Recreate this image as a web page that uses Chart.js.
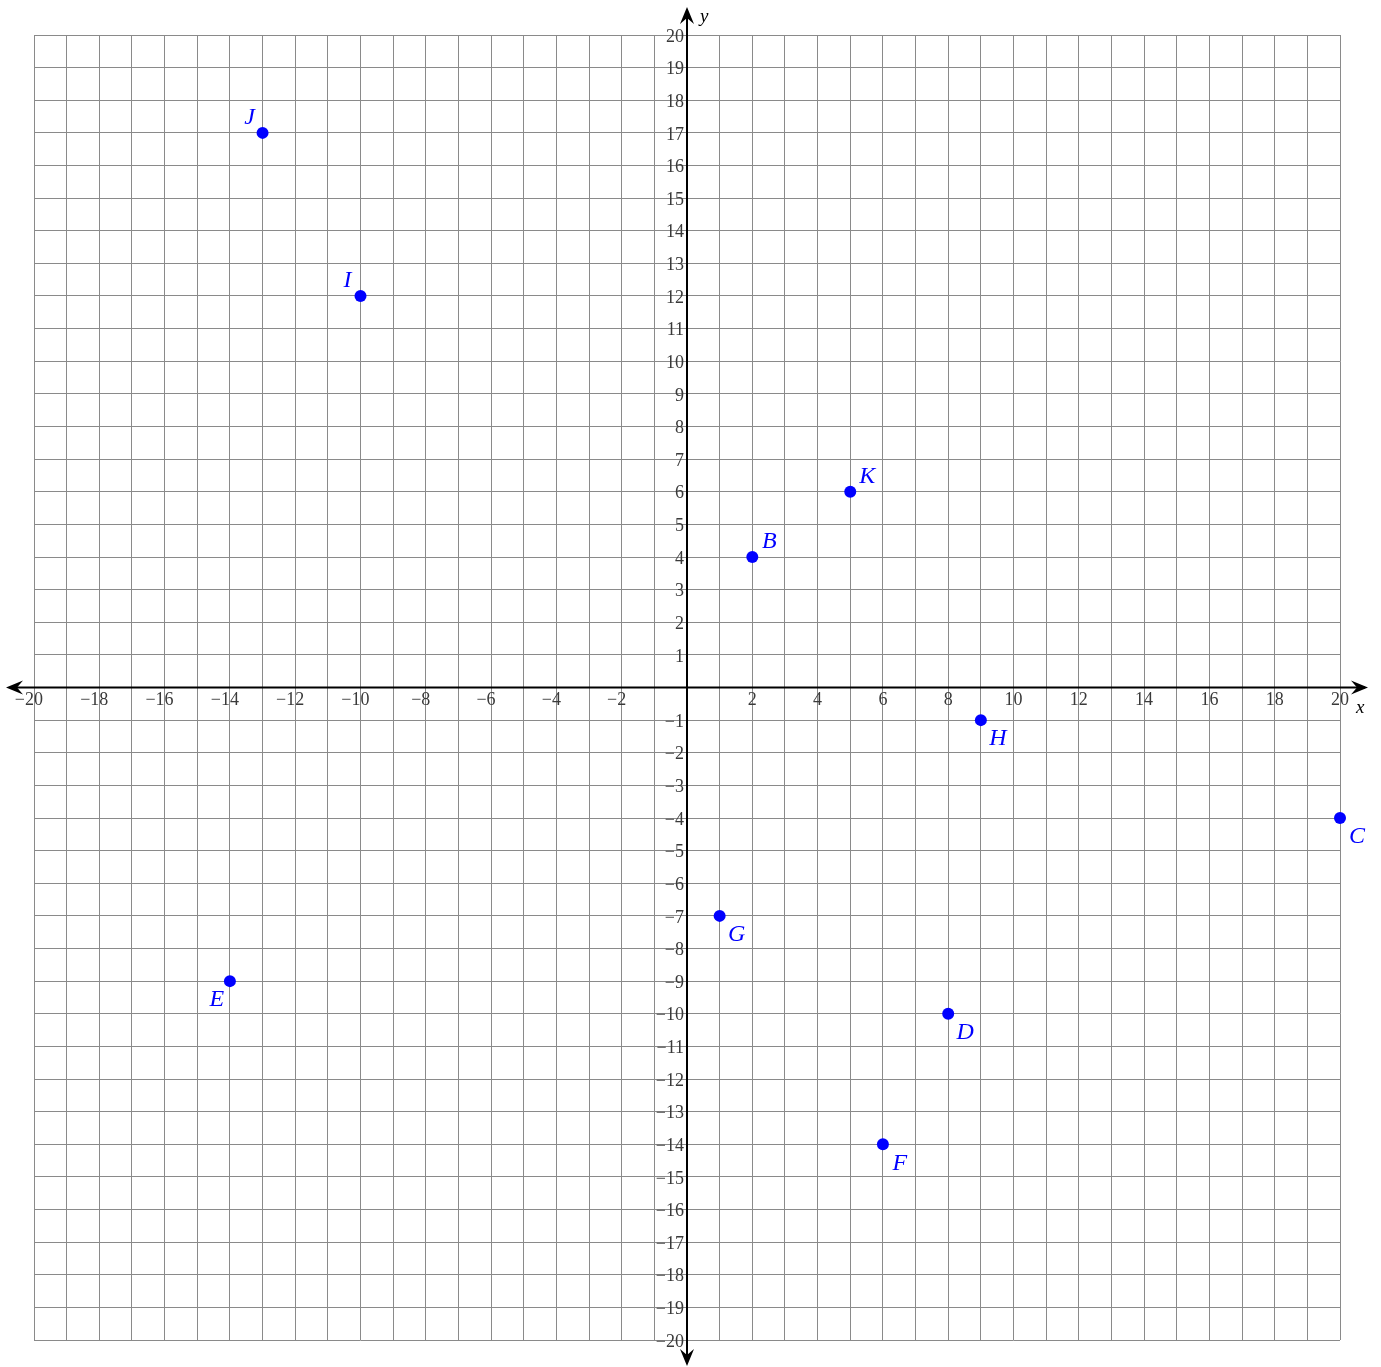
<!DOCTYPE html>
<html>
<head>
<meta charset="utf-8">
<script src="https://cdn.jsdelivr.net/npm/chart.js@4.4.1/dist/chart.umd.min.js"></script>
<style>
  html,body{margin:0;padding:0;background:#fff;}
  #wrap{width:1381px;height:1367px;}
</style>
</head>
<body>
<div id="wrap"><canvas id="plane" width="1381" height="1367"></canvas></div>
<script>
// ── Data ──
const pointNames = ['B','C','D','E','F','G','H','I','J','K'];
const pointX     = [2, 20, 8, -14, 6, 1, 9, -10, -13, 5];
const pointY     = [4, -4, -10, -9, -14, -7, -1, 12, 17, 6];
// label side: 'ur' up-right, 'dr' down-right, 'dl' down-left, 'ul' up-left
const labelSide  = ['ur','dr','dr','dl','dr','dr','dr','ul','ul','ur'];

const xTickLabels = [-20,-18,-16,-14,-12,-10,-8,-6,-4,-2,2,4,6,8,10,12,14,16,18,20];
const yTickLabels = [-20,-19,-18,-17,-16,-15,-14,-13,-12,-11,-10,-9,-8,-7,-6,-5,-4,-3,-2,-1,
                     1,2,3,4,5,6,7,8,9,10,11,12,13,14,15,16,17,18,19,20];

const MINUS='\u2212';
const tickFont='18px "Liberation Serif", "DejaVu Serif", serif';
const nameFont='italic 24px "Liberation Serif", "DejaVu Serif", serif';

function arrowHead(ctx,x,y,ang){
  ctx.save();
  ctx.translate(x,y);ctx.rotate(ang);
  ctx.beginPath();
  ctx.moveTo(0,0);
  ctx.lineTo(-17,-7);
  ctx.lineTo(-11,0);
  ctx.lineTo(-17,7);
  ctx.closePath();
  ctx.fill();
  ctx.restore();
}

// ── Axes, arrows, tick labels, point names ──
const planePlugin={
  id:'plane',
  afterDatasetsDraw(chart){
    const ctx=chart.ctx;
    const xs=chart.scales.x, ys=chart.scales.y;
    const ox=xs.getPixelForValue(0), oy=ys.getPixelForValue(0);
    ctx.save();
    // axis lines
    ctx.strokeStyle='#000';ctx.fillStyle='#000';ctx.lineWidth=2;
    ctx.beginPath();
    ctx.moveTo(10,oy);ctx.lineTo(chart.width-16,oy);
    ctx.moveTo(ox,10);ctx.lineTo(ox,chart.height-4);
    ctx.stroke();
    arrowHead(ctx,6,oy,Math.PI);
    arrowHead(ctx,chart.width-13,oy,0);
    arrowHead(ctx,ox,7,-Math.PI/2);
    arrowHead(ctx,ox,chart.height-1,Math.PI/2);

    // axis names
    ctx.font='italic 19px "Liberation Serif", "DejaVu Serif", serif';
    ctx.textAlign='left';ctx.textBaseline='middle';
    ctx.fillText('x',chart.width-25,oy+20);
    ctx.fillText('y',ox+13,17);

    // x tick labels
    ctx.font=tickFont;ctx.fillStyle='#3a3a3a';ctx.textBaseline='middle';
    xTickLabels.forEach(v=>{
      const px=xs.getPixelForValue(v);
      const digits=String(Math.abs(v));
      const w=ctx.measureText(digits).width;
      ctx.textAlign='left';
      ctx.fillText(digits,px-w/2,oy+13);
      if(v<0){ctx.textAlign='right';ctx.fillText(MINUS,px-w/2,oy+13);}
    });
    // y tick labels
    ctx.textAlign='right';
    yTickLabels.forEach(v=>{
      const py=ys.getPixelForValue(v);
      const txt=(v<0?MINUS:'')+Math.abs(v);
      ctx.fillText(txt,ox-3,py+2);
    });

    // point names
    ctx.font=nameFont;ctx.fillStyle='#0000ff';
    const meta=chart.getDatasetMeta(0);
    meta.data.forEach((pt,i)=>{
      const s=labelSide[i];
      const dx=s.includes('r')?17:-13;
      const dy=s.includes('u')?-15:19;
      ctx.textAlign='center';ctx.textBaseline='middle';
      ctx.fillText(pointNames[i],pt.x+dx,pt.y+dy);
    });
    ctx.restore();
  }
};

new Chart(document.getElementById('plane'),{
  type:'scatter',
  data:{datasets:[{
    data:pointX.map((x,i)=>({x:x,y:pointY[i]})),
    backgroundColor:'#0000ff',borderColor:'#0000ff',
    pointRadius:6,pointHoverRadius:6,borderWidth:0,clip:false
  }]},
  options:{
    responsive:false,animation:false,devicePixelRatio:1,
    layout:{padding:{left:34,right:41,top:35,bottom:27}},
    plugins:{legend:{display:false},tooltip:{enabled:false}},
    scales:{
      x:{type:'linear',min:-20,max:20,
         ticks:{display:false,stepSize:1},
         grid:{color:'#8a8a8a',lineWidth:1,drawTicks:false},
         border:{display:false}},
      y:{type:'linear',min:-20,max:20,
         ticks:{display:false,stepSize:1},
         grid:{color:'#8a8a8a',lineWidth:1,drawTicks:false},
         border:{display:false}}
    }
  },
  plugins:[planePlugin]
});
</script>
</body>
</html>
